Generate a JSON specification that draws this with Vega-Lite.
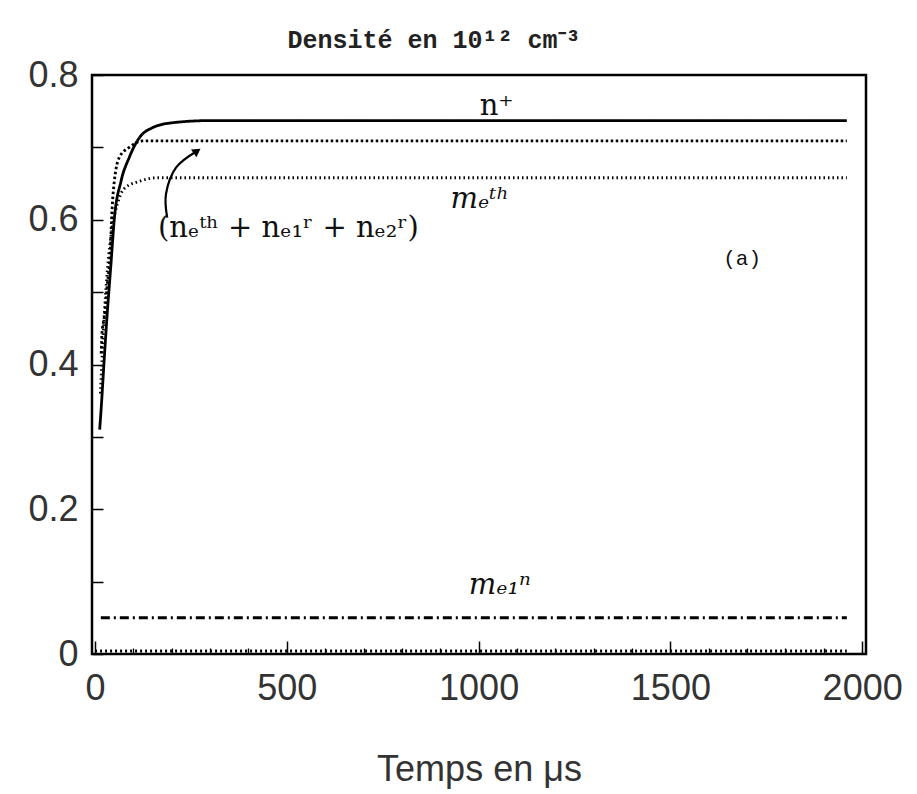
{
  "$schema": "https://vega.github.io/schema/vega-lite/v6.json",
  "width": 774,
  "height": 579,
  "autosize": "none",
  "padding": {"left": 92, "top": 75, "right": 51, "bottom": 140},
  "background": "white",
  "config": {"view": {"stroke": "black", "strokeWidth": 2.5}},
  "title": {
    "text": "Densité en 10¹² cm⁻³",
    "font": "Liberation Mono",
    "fontWeight": "bold",
    "fontSize": 25,
    "color": "#222",
    "anchor": "middle",
    "dx": -45,
    "offset": 4
  },
  "resolve": {"axis": {"x": "independent"}},
  "datasets": {
    "curves": [
      {"series": "n⁺", "t": 12, "v": 0.31},
      {"series": "n⁺", "t": 16, "v": 0.34},
      {"series": "n⁺", "t": 23, "v": 0.40},
      {"series": "n⁺", "t": 31, "v": 0.465},
      {"series": "n⁺", "t": 42, "v": 0.543},
      {"series": "n⁺", "t": 50, "v": 0.60},
      {"series": "n⁺", "t": 68, "v": 0.654},
      {"series": "n⁺", "t": 89, "v": 0.686},
      {"series": "n⁺", "t": 115, "v": 0.713},
      {"series": "n⁺", "t": 149, "v": 0.727},
      {"series": "n⁺", "t": 201, "v": 0.734},
      {"series": "n⁺", "t": 300, "v": 0.737},
      {"series": "n⁺", "t": 1000, "v": 0.737},
      {"series": "n⁺", "t": 1960, "v": 0.737},
      {"series": "somme", "t": 16, "v": 0.415},
      {"series": "somme", "t": 18, "v": 0.443},
      {"series": "somme", "t": 24, "v": 0.465},
      {"series": "somme", "t": 32, "v": 0.51},
      {"series": "somme", "t": 40, "v": 0.56},
      {"series": "somme", "t": 43, "v": 0.60},
      {"series": "somme", "t": 47, "v": 0.636},
      {"series": "somme", "t": 63, "v": 0.686},
      {"series": "somme", "t": 89, "v": 0.70},
      {"series": "somme", "t": 125, "v": 0.709},
      {"series": "somme", "t": 300, "v": 0.709},
      {"series": "somme", "t": 1960, "v": 0.709},
      {"series": "nₑᵗʰ", "t": 14, "v": 0.36},
      {"series": "nₑᵗʰ", "t": 22, "v": 0.45},
      {"series": "nₑᵗʰ", "t": 32, "v": 0.53},
      {"series": "nₑᵗʰ", "t": 45, "v": 0.59},
      {"series": "nₑᵗʰ", "t": 60, "v": 0.625},
      {"series": "nₑᵗʰ", "t": 76, "v": 0.643},
      {"series": "nₑᵗʰ", "t": 115, "v": 0.653},
      {"series": "nₑᵗʰ", "t": 160, "v": 0.658},
      {"series": "nₑᵗʰ", "t": 1960, "v": 0.658},
      {"series": "nₑ₁ʳ", "t": 15, "v": 0.05},
      {"series": "nₑ₁ʳ", "t": 1960, "v": 0.05},
      {"series": "nₑ₂ʳ", "t": 0, "v": 0.004},
      {"series": "nₑ₂ʳ", "t": 1960, "v": 0.004}
    ],
    "arrow": [
      {"k": 1, "t": 188, "v": 0.603},
      {"k": 2, "t": 185, "v": 0.636},
      {"k": 3, "t": 211, "v": 0.672},
      {"k": 4, "t": 266, "v": 0.695}
    ],
    "arrowhead": [{"t": 266, "v": 0.695}],
    "serifNotes": [
      {"label": "n⁺", "t": 1047, "v": 0.757},
      {"label": "(nₑᵗʰ + nₑ₁ʳ + nₑ₂ʳ)", "t": 504, "v": 0.588}
    ],
    "handNotes": [
      {"label": "mₑᵗʰ", "t": 1003, "v": 0.629},
      {"label": "mₑ₁ⁿ", "t": 1055, "v": 0.095}
    ],
    "panel": [{"label": "(a)", "t": 1687, "v": 0.546}]
  },
  "layer": [
    {
      "data": {"name": "curves"},
      "mark": {"type": "line", "interpolate": "monotone", "color": "black"},
      "encoding": {
        "x": {
          "field": "t", "type": "quantitative",
          "scale": {"domain": [-8, 2010], "nice": false, "zero": false},
          "axis": {
            "orient": "bottom",
            "values": [0, 500, 1000, 1500, 2000],
            "format": "d",
            "tickSize": -13,
            "tickColor": "black",
            "tickWidth": 1.5,
            "domain": false,
            "grid": false,
            "labelFont": "Liberation Sans",
            "labelFontSize": 36,
            "labelColor": "#333",
            "labelPadding": 30,
            "labelFlush": false,
            "labelOverlap": false,
            "title": "Temps en μs",
            "titleFont": "Liberation Sans",
            "titleFontSize": 36,
            "titleFontWeight": "normal",
            "titleColor": "#333",
            "titlePadding": 46
          }
        },
        "y": {
          "field": "v", "type": "quantitative",
          "scale": {"domain": [0, 0.8], "nice": false},
          "axis": {
            "values": [0,0.05,0.1,0.15,0.2,0.25,0.3,0.35,0.4,0.45,0.5,0.55,0.6,0.65,0.7,0.75,0.8],
            "labelExpr": "datum.value === 0 ? '0' : (abs(datum.value * 5 - round(datum.value * 5)) < 0.001 ? format(datum.value, '.1f') : '')",
            "tickSize": -11,
            "tickColor": "black",
            "tickWidth": 1.5,
            "domain": false,
            "grid": false,
            "labelFont": "Liberation Sans",
            "labelFontSize": 36,
            "labelColor": "#333",
            "labelPadding": 25,
            "labelFlush": false,
            "labelOverlap": false,
            "title": null
          }
        },
        "detail": {"field": "series"},
        "strokeDash": {
          "field": "series", "type": "nominal",
          "scale": {
            "domain": ["n⁺", "somme", "nₑᵗʰ", "nₑ₁ʳ", "nₑ₂ʳ"],
            "range": [[1, 0], [2.5, 2.5], [1.5, 3], [9, 4, 2, 4], [2, 3]]
          },
          "legend": null
        },
        "strokeWidth": {
          "field": "series", "type": "nominal",
          "scale": {
            "domain": ["n⁺", "somme", "nₑᵗʰ", "nₑ₁ʳ", "nₑ₂ʳ"],
            "range": [2.8, 3, 1.5, 1.6, 1.5]
          },
          "legend": null
        }
      }
    },
    {
      "data": {"name": "arrow"},
      "mark": {"type": "line", "interpolate": "cardinal", "color": "black", "strokeWidth": 2.2},
      "encoding": {
        "x": {
          "field": "t", "type": "quantitative",
          "axis": {
            "orient": "bottom",
            "values": [100,200,300,400,600,700,800,900,1100,1200,1300,1400,1600,1700,1800,1900],
            "labels": false,
            "tickSize": -6,
            "tickColor": "black",
            "tickWidth": 1.3,
            "domain": false,
            "grid": false,
            "title": null
          }
        },
        "y": {"field": "v", "type": "quantitative"},
        "order": {"field": "k", "type": "quantitative"}
      }
    },
    {
      "data": {"name": "arrowhead"},
      "mark": {"type": "point", "shape": "triangle-up", "filled": true, "color": "black", "size": 90, "angle": 55, "opacity": 1},
      "encoding": {
        "x": {"field": "t", "type": "quantitative", "axis": null},
        "y": {"field": "v", "type": "quantitative"}
      }
    },
    {
      "data": {"name": "serifNotes"},
      "mark": {"type": "text", "font": "DejaVu Serif", "fontSize": 29, "color": "#111", "align": "center", "baseline": "middle"},
      "encoding": {
        "x": {"field": "t", "type": "quantitative", "axis": null},
        "y": {"field": "v", "type": "quantitative"},
        "text": {"field": "label"}
      }
    },
    {
      "data": {"name": "handNotes"},
      "mark": {"type": "text", "font": "DejaVu Serif", "fontStyle": "italic", "fontSize": 29, "color": "#111", "align": "center", "baseline": "middle"},
      "encoding": {
        "x": {"field": "t", "type": "quantitative", "axis": null},
        "y": {"field": "v", "type": "quantitative"},
        "text": {"field": "label"}
      }
    },
    {
      "data": {"name": "panel"},
      "mark": {"type": "text", "font": "Liberation Mono", "fontSize": 21, "color": "#111", "align": "center", "baseline": "middle"},
      "encoding": {
        "x": {"field": "t", "type": "quantitative", "axis": null},
        "y": {"field": "v", "type": "quantitative"},
        "text": {"field": "label"}
      }
    }
  ]
}
